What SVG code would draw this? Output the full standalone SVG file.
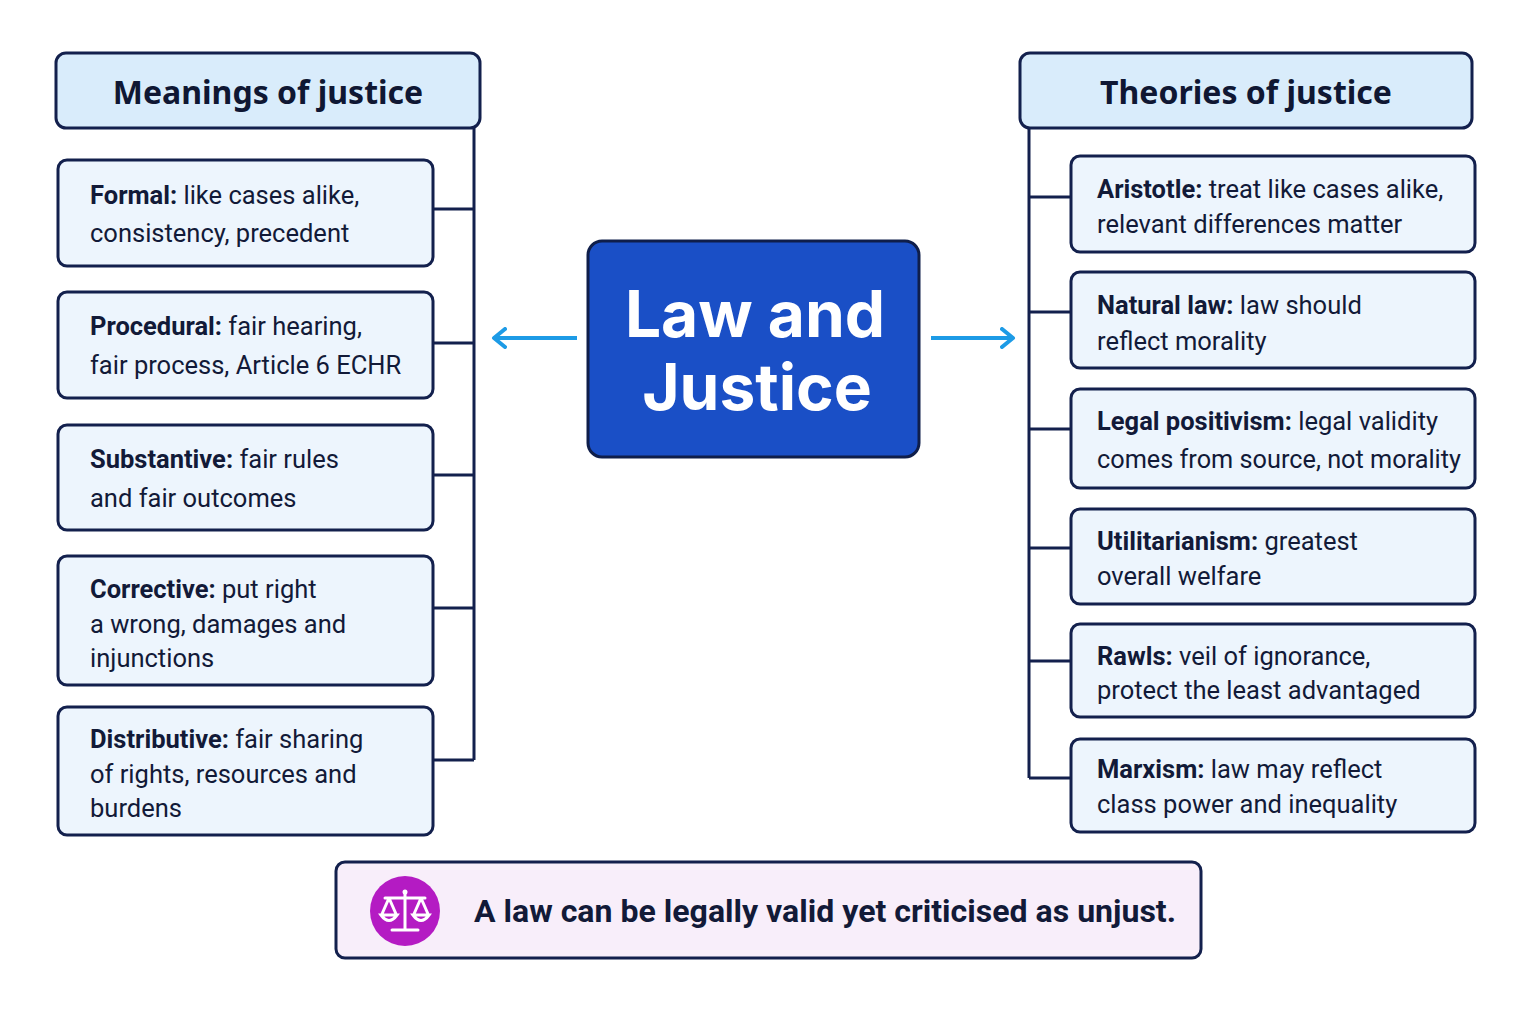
<svg xmlns="http://www.w3.org/2000/svg" width="1536" height="1024" viewBox="0 0 1536 1024">
<style>
.box{fill:#edf5fd;stroke:#13204d;stroke-width:3}
.hdr{fill:#d9ecfb;stroke:#13204d;stroke-width:3}
.t{font-family:Roboto,"Liberation Sans",sans-serif;font-size:25.5px;fill:#121a38}
.h{font-family:"Noto Sans","Open Sans",sans-serif;font-size:32px;font-weight:700;fill:#0f1733;text-anchor:middle}
.b{font-weight:700}
.ln{stroke:#13204d;stroke-width:3;fill:none}
.ar{stroke:#1d9be6;stroke-width:4;fill:none}
</style>
<defs>
<marker id="m" markerWidth="16" markerHeight="22" refX="13" refY="11" orient="auto" markerUnits="userSpaceOnUse" viewBox="0 0 16 22">
<path d="M2,2 L13,11 L2,20" fill="none" stroke="#1d9be6" stroke-width="4" stroke-linecap="round" stroke-linejoin="round"/>
</marker>
</defs>
<rect width="1536" height="1024" fill="#fff"/>
<g id="connectors">
<path class="ln" d="M474,128 V760 M433,209 H474 M433,343 H474 M433,475 H474 M433,608 H474 M433,760 H474"/>
<path class="ln" d="M1029,128 V778 M1029,197 H1071 M1029,312 H1071 M1029,429 H1071 M1029,548 H1071 M1029,661 H1071 M1029,778 H1071"/>
<path class="ar" d="M577,338 H494" marker-end="url(#m)"/>
<path class="ar" d="M931,338 H1013" marker-end="url(#m)"/>
</g>
<g id="left-header"><rect class="hdr" x="56" y="53" width="424" height="75" rx="10"/><text class="h" x="268" y="104">Meanings of justice</text></g>
<g id="right-header"><rect class="hdr" x="1020" y="53" width="452" height="75" rx="10"/><text class="h" x="1246" y="104">Theories of justice</text></g>
<g id="center"><rect x="588" y="241" width="331" height="216" rx="14" fill="#1a4fc6" stroke="#0f1e4a" stroke-width="3"/>
<text font-family="Inter,'Noto Sans',sans-serif" font-weight="700" font-size="64" fill="#fff" text-anchor="middle"><tspan x="755" y="337">Law and</tspan><tspan x="757" y="410">Justice</tspan></text></g>
<g id="formal"><rect class="box" x="58" y="160" width="375" height="106" rx="9"/><text class="t"><tspan x="90" y="204"><tspan class="b">Formal:</tspan> like cases alike,</tspan><tspan x="90" y="242">consistency, precedent</tspan></text></g>
<g id="procedural"><rect class="box" x="58" y="292" width="375" height="106" rx="9"/><text class="t"><tspan x="90" y="335"><tspan class="b">Procedural:</tspan> fair hearing,</tspan><tspan x="90" y="374">fair process, Article 6 ECHR</tspan></text></g>
<g id="substantive"><rect class="box" x="58" y="425" width="375" height="105" rx="9"/><text class="t"><tspan x="90" y="468"><tspan class="b">Substantive:</tspan> fair rules</tspan><tspan x="90" y="507">and fair outcomes</tspan></text></g>
<g id="corrective"><rect class="box" x="58" y="556" width="375" height="129" rx="9"/><text class="t"><tspan x="90" y="598"><tspan class="b">Corrective:</tspan> put right</tspan><tspan x="90" y="633">a wrong, damages and</tspan><tspan x="90" y="667">injunctions</tspan></text></g>
<g id="distributive"><rect class="box" x="58" y="707" width="375" height="128" rx="9"/><text class="t"><tspan x="90" y="748"><tspan class="b">Distributive:</tspan> fair sharing</tspan><tspan x="90" y="783">of rights, resources and</tspan><tspan x="90" y="817">burdens</tspan></text></g>
<g id="aristotle"><rect class="box" x="1071" y="156" width="404" height="96" rx="9"/><text class="t"><tspan x="1097" y="198"><tspan class="b">Aristotle:</tspan> treat like cases alike,</tspan><tspan x="1097" y="233">relevant differences matter</tspan></text></g>
<g id="natural"><rect class="box" x="1071" y="272" width="404" height="96" rx="9"/><text class="t"><tspan x="1097" y="314"><tspan class="b">Natural law:</tspan> law should</tspan><tspan x="1097" y="350">reflect morality</tspan></text></g>
<g id="positivism"><rect class="box" x="1071" y="389" width="404" height="99" rx="9"/><text class="t"><tspan x="1097" y="430"><tspan class="b">Legal positivism:</tspan> legal validity</tspan><tspan x="1097" y="468" textLength="364" lengthAdjust="spacingAndGlyphs">comes from source, not morality</tspan></text></g>
<g id="utilitarianism"><rect class="box" x="1071" y="509" width="404" height="95" rx="9"/><text class="t"><tspan x="1097" y="550"><tspan class="b">Utilitarianism:</tspan> greatest</tspan><tspan x="1097" y="585">overall welfare</tspan></text></g>
<g id="rawls"><rect class="box" x="1071" y="624" width="404" height="93" rx="9"/><text class="t"><tspan x="1097" y="665"><tspan class="b">Rawls:</tspan> veil of ignorance,</tspan><tspan x="1097" y="699">protect the least advantaged</tspan></text></g>
<g id="marxism"><rect class="box" x="1071" y="739" width="404" height="93" rx="9"/><text class="t"><tspan x="1097" y="778"><tspan class="b">Marxism:</tspan> law may reflect</tspan><tspan x="1097" y="813">class power and inequality</tspan></text></g>
<g id="note"><rect x="336" y="862" width="865" height="96" rx="9" fill="#f8eefa" stroke="#13204d" stroke-width="3"/>
<circle cx="405" cy="911" r="35" fill="#b41bc3"/>
<g stroke="#fff" stroke-width="3" fill="none" stroke-linecap="round"><path d="M405,892 V929 M392,930 H418 M385,898 H425 M389,898 L382,914 M389,898 L396,914 M421,898 L414,914 M421,898 L428,914 M381,915 Q389,926 397,915 Z M413,915 Q421,926 429,915 Z"/></g>
<circle cx="405" cy="892" r="2.5" fill="#fff"/>
<text x="474" y="922" font-family="Roboto,'Liberation Sans',sans-serif" font-weight="700" font-size="31" fill="#121a38" textLength="702" lengthAdjust="spacingAndGlyphs">A law can be legally valid yet criticised as unjust.</text></g>
</svg>
